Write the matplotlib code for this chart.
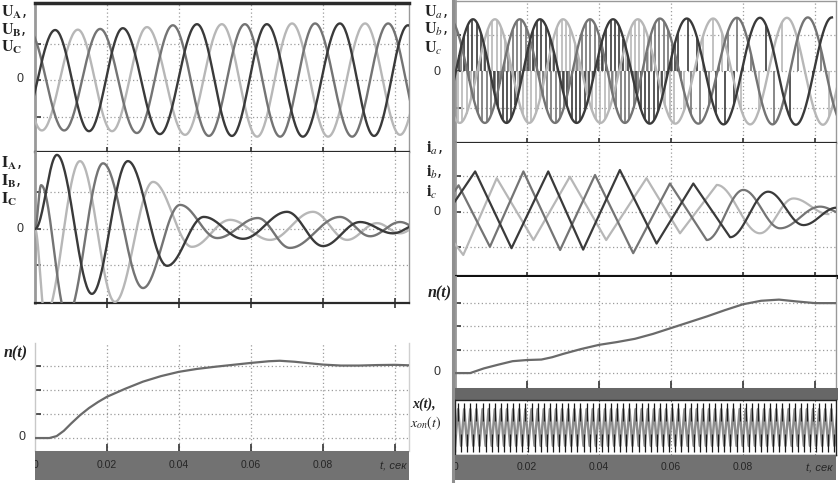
import numpy as np
import matplotlib.pyplot as plt
from matplotlib.lines import Line2D

plt.rcParams['mathtext.fontset'] = 'stix'

W, H = 838, 483

# ---------------- data ----------------
# time in seconds, amplitudes in grid units (dotted grid = +-1)

# left: supply voltages U_A, U_B, U_C  (extremes of each wave)
uA_t = [-0.0042, 0.0056, 0.0150, 0.0244, 0.0347, 0.0450, 0.0547, 0.0644, 0.0744, 0.0847, 0.0942, 0.1036, 0.1130]
uA_v = [-1.37, 1.37, -1.40, 1.42, -1.48, 1.53, -1.53, 1.53, -1.55, 1.55, -1.53, 1.50, -1.50]
uB_t = [-0.0019, 0.0081, 0.0181, 0.0283, 0.0383, 0.0483, 0.0583, 0.0681, 0.0778, 0.0881, 0.0981, 0.1078]
uB_v = [1.38, -1.38, 1.40, -1.45, 1.50, -1.53, 1.53, -1.55, 1.55, -1.55, 1.55, -1.50]
uC_t = [-0.0075, 0.0019, 0.0119, 0.0214, 0.0311, 0.0417, 0.0519, 0.0617, 0.0714, 0.0814, 0.0917, 0.1014, 0.1111]
uC_v = [1.38, -1.38, 1.38, -1.40, 1.45, -1.50, 1.53, -1.55, 1.55, -1.55, 1.55, -1.50, 1.50]

# left: stator currents I_A, I_B, I_C
iA_t = [0.0, 0.0061, 0.0158, 0.0258, 0.0367, 0.0469, 0.0578, 0.0700, 0.0800, 0.0903, 0.0994, 0.1069]
iA_v = [0.0, 2.03, -1.78, 1.86, -1.01, 0.33, -0.27, 0.47, -0.47, 0.19, -0.12, 0.15]
iB_t = [0.0, 0.0017, 0.0089, 0.0189, 0.0300, 0.0403, 0.0506, 0.0619, 0.0708, 0.0847, 0.0931, 0.1014, 0.1083]
iB_v = [0.0, 1.20, -2.40, 1.80, -1.62, 0.66, -0.25, 0.30, -0.52, 0.33, -0.20, 0.19, -0.10]
iC_t = [0.0, 0.0028, 0.0125, 0.0222, 0.0328, 0.0436, 0.0542, 0.0653, 0.0772, 0.0867, 0.0950, 0.1014, 0.1069]
iC_v = [0.0, -2.40, 1.86, -2.00, 1.29, -0.49, 0.25, -0.30, 0.47, -0.30, 0.16, -0.12, 0.10]

# left: speed n(t)
nL_t = [0.0, 0.004, 0.006, 0.008, 0.010, 0.0125, 0.015, 0.0175, 0.020, 0.025, 0.030, 0.035, 0.040,
        0.045, 0.050, 0.055, 0.060, 0.065, 0.068, 0.072, 0.076, 0.080, 0.085, 0.090, 0.095, 0.100, 0.104]
nL_v = [0.0, 0.0, 0.08, 0.30, 0.60, 0.95, 1.25, 1.50, 1.72, 2.05, 2.35, 2.58, 2.76,
        2.88, 2.97, 3.05, 3.13, 3.20, 3.22, 3.18, 3.12, 3.06, 3.02, 3.02, 3.04, 3.05, 3.03]

# right: inverter voltages U_a, U_b, U_c (sine envelopes)
ua_t = [-0.0045, 0.0050, 0.0143, 0.0236, 0.0338, 0.0439, 0.0541, 0.0644, 0.0746, 0.0847, 0.0947, 0.1047]
ua_v = [-1.42, 1.42, -1.42, 1.42, -1.42, 1.42, -1.44, 1.44, -1.46, 1.46, -1.47, 1.47]
ub_t = [-0.0015, 0.0083, 0.0180, 0.0278, 0.0375, 0.0472, 0.0569, 0.0676, 0.0783, 0.0882, 0.0980, 0.1080]
ub_v = [1.42, -1.42, 1.42, -1.42, 1.42, -1.42, 1.44, -1.44, 1.46, -1.46, 1.47, -1.47]
uc_t = [-0.0085, 0.0013, 0.0111, 0.0206, 0.0300, 0.0404, 0.0508, 0.0612, 0.0717, 0.0820, 0.0922, 0.1022, 0.1120]
uc_v = [1.42, -1.42, 1.42, -1.42, 1.42, -1.42, 1.42, -1.44, 1.44, -1.46, 1.46, -1.47, 1.47]
# switching pulses: spacing and the time up to which that spacing holds
pwm_step = [0.0012, 0.0026, 0.0065]
pwm_until = [0.062, 0.080, 0.106]

# right: currents i_a, i_b, i_c
ia_t = [0.0, 0.0056, 0.0157, 0.0259, 0.0356, 0.0458, 0.0560, 0.0662, 0.0764, 0.0870, 0.0968, 0.1060]
ia_v = [0.30, 1.14, -1.02, 1.14, -1.06, 1.18, -0.89, 0.80, -0.71, 0.57, -0.37, 0.12]
ib_t = [0.0, 0.0010, 0.0097, 0.0190, 0.0292, 0.0389, 0.0495, 0.0597, 0.0699, 0.0801, 0.0903, 0.1014, 0.1080]
ib_v = [0.60, 0.75, -0.98, 1.14, -1.07, 1.04, -1.16, 0.80, -0.79, 0.62, -0.46, 0.15, -0.05]
ic_t = [0.0, 0.0023, 0.0116, 0.0218, 0.0319, 0.0420, 0.0532, 0.0625, 0.0727, 0.0847, 0.0940, 0.1037]
ic_v = [-0.90, -1.21, 0.95, -0.79, 0.99, -0.79, 0.95, -0.60, 0.76, -0.60, 0.38, -0.06]
i_sharp_until = 0.080   # ramps look triangular before this time

# right: speed n(t)
nR_t = [0.0, 0.0042, 0.008, 0.012, 0.016, 0.020, 0.024, 0.027, 0.030, 0.035, 0.040, 0.045, 0.050,
        0.055, 0.060, 0.065, 0.070, 0.075, 0.080, 0.085, 0.090, 0.095, 0.100, 0.106]
nR_v = [0.0, 0.0, 0.20, 0.36, 0.51, 0.56, 0.58, 0.68, 0.82, 1.03, 1.21, 1.33, 1.47,
        1.68, 1.93, 2.18, 2.43, 2.70, 2.95, 3.10, 3.15, 3.07, 3.00, 3.00]

# right: x(t), x_on(t) oscillation
x_period = 0.0017
x_amp = 0.95
xon_amp = 0.72

tick_t = [0.02, 0.04, 0.06, 0.08, 0.10]
tick_lbl = ['0', '0.02', '0.04', '0.06', '0.08']

DARK, MID, LIGHT = '#3a3a3a', '#747474', '#b7b7b7'
GRID = '#9c9c9c'


def box(x0, y0, x1, y1):
    return [x0 / W, 1 - y1 / H, (x1 - x0) / W, (y1 - y0) / H]


def wave(tk, vk, sharp_until=None, n=40):
    # connect the read extremes with half-cosine arcs (or straight ramps)
    ts, vs = [], []
    for i in range(len(tk) - 1):
        s = np.linspace(0, 1, n, endpoint=False)
        if sharp_until is not None and tk[i + 1] <= sharp_until:
            f = s
        else:
            f = (1 - np.cos(np.pi * s)) / 2
        ts.append(tk[i] + s * (tk[i + 1] - tk[i]))
        vs.append(vk[i] + (vk[i + 1] - vk[i]) * f)
    ts.append([tk[-1]])
    vs.append([vk[-1]])
    return np.concatenate(ts), np.concatenate(vs)


def panel(rect, xmax, ylim, yticks, bottom=None, top=None):
    ax = fig.add_axes(box(*rect))
    ax.set_xlim(0, xmax)
    ax.set_ylim(*ylim)
    for xt in tick_t:
        ax.axvline(xt, color=GRID, lw=0.9, ls=(0, (1, 2)), zorder=1)
    for yt in yticks:
        ax.axhline(yt, color=GRID, lw=0.9, ls=(0, (1, 2)), zorder=1)
    ax.set_xticks(tick_t)
    ax.set_yticks(yticks)
    ax.tick_params(axis='y', direction='in', length=4, width=1.3, color='#444', labelleft=False)
    ax.tick_params(axis='x', direction='inout', length=7, width=1.2, color='#333',
                   labelbottom=False, bottom=bottom is not None, top=False)
    for s in ['left', 'right']:
        ax.spines[s].set_color('#999')
        ax.spines[s].set_linewidth(1.0)
    ax.spines['left'].set_linewidth(2.0)
    if bottom is None:
        ax.spines['bottom'].set_visible(False)
    else:
        ax.spines['bottom'].set_color('#2a2a2a')
        ax.spines['bottom'].set_linewidth(bottom)
    if top is None:
        ax.spines['top'].set_visible(False)
    else:
        ax.spines['top'].set_color('#2a2a2a')
        ax.spines['top'].set_linewidth(top)
    return ax


def band(rect, xmax, color, labels=True):
    ax = fig.add_axes(box(*rect))
    ax.set_xlim(0, xmax)
    ax.set_ylim(0, 1)
    ax.set_facecolor(color)
    ax.set_xticks([])
    ax.set_yticks([])
    for s in ax.spines.values():
        s.set_visible(False)
    if labels:
        for xt, lb in zip([0.0] + tick_t[:-1], tick_lbl):
            ax.text(xt, 0.5, lb, ha='center', va='center', fontsize=7.5,
                    color='#262626', family='Liberation Sans', clip_on=True)
        ax.text(0.992, 0.45, 't, сек', transform=ax.transAxes, ha='right', va='center',
                fontsize=8, style='italic', color='#262626', family='Liberation Sans')
    return ax


fig = plt.figure(figsize=(W / 100, H / 100), dpi=100)

# ================= left column =================
xL = (409 - 35) / 3600
ax = panel((35, 3, 409, 152), xL, (-1.97, 2.11), [-1, 0, 1], bottom=1.6, top=2.5)
for (tt, vv), c in zip([wave(uC_t, uC_v), wave(uB_t, uB_v), wave(uA_t, uA_v)], [LIGHT, MID, DARK]):
    ax.plot(tt, vv, color=c, lw=1.7, zorder=3)

ax = panel((35, 152, 409, 303), xL, (-2.03, 2.11), [-1, 0, 1], bottom=1.6)
for (tt, vv), c in zip([wave(iC_t, iC_v), wave(iB_t, iB_v), wave(iA_t, iA_v)], [LIGHT, MID, DARK]):
    ax.plot(tt, vv, color=c, lw=1.7, zorder=3)

ax = panel((35, 343, 409, 451), xL, (-0.54, 3.96), [0, 1, 2, 3], bottom=0.01)
ax.spines['left'].set_color('#c8c8c8')
ax.spines['left'].set_linewidth(1.0)
ax.spines['right'].set_color('#d0d0d0')
ax.tick_params(axis='x', direction='in', length=5)
ax.plot(nL_t, nL_v, color='#6a6a6a', lw=1.6, zorder=3)

band((35, 451, 409, 480), xL, '#727272')

# ================= right column =================
xR = (836 - 455) / 3600
ax = panel((455, 1, 836, 143), xR, (-1.97, 1.92), [-1, 0, 1], bottom=1.6, top=1.0)
ax.spines['top'].set_color('#999')
phases = [(uc_t, uc_v, LIGHT, 2 / 3), (ub_t, ub_v, MID, 1 / 3), (ua_t, ua_v, DARK, 0.0)]
for pt, pv, c, sh in phases:
    tt, vv = wave(pt, pv)
    start = 0.0
    for stp, end in zip(pwm_step, pwm_until):
        tp = np.arange(start + sh * stp, end, stp)
        ax.vlines(tp, 0, np.interp(tp, tt, vv), color=c, lw=1.2, zorder=2)
        start = end
    ax.plot(tt, vv, color=c, lw=1.7, zorder=3)

ax = panel((455, 143, 836, 277), xR, (-1.83, 1.94), [-1, 0, 1], bottom=3.0)
ax.spines['bottom'].set_color('#111')
for (pt, pv), c in zip([(ic_t, ic_v), (ib_t, ib_v), (ia_t, ia_v)], [LIGHT, MID, DARK]):
    tt, vv = wave(pt, pv, sharp_until=i_sharp_until)
    ax.plot(tt, vv, color=c, lw=1.6, zorder=3)

ax = panel((455, 277, 836, 388), xR, (-0.64, 4.12), [0, 1, 2, 3], bottom=0.01)
ax.tick_params(axis='x', direction='in', length=5)
ax.plot(nR_t, nR_v, color='#6a6a6a', lw=1.6, zorder=3)

band((455, 388, 838, 400), xR, '#676767', labels=False)

ax = fig.add_axes(box(455, 400, 836, 455))
ax.set_xlim(0, xR)
ax.set_ylim(-1.08, 1.08)
ax.set_xticks([])
ax.set_yticks([])
for s in ax.spines.values():
    s.set_color('#222')
    s.set_linewidth(1.0)
for xt in tick_t:
    ax.axvline(xt, color='#777', lw=0.8, ls=(0, (1, 2)), zorder=1)
xk = np.arange(0, xR + x_period, x_period / 2)
xv = np.where(np.arange(len(xk)) % 2 == 0, -xon_amp, xon_amp)
ax.plot(xk, xv, color='#8e8e8e', lw=1.8, zorder=2)
ax.vlines(xk, np.sign(xv) * 0.25, np.sign(xv) * x_amp, color='#1a1a1a', lw=0.9, zorder=3)

band((455, 455, 836, 480), xR, '#727272')

# right group frame line
fig.add_artist(Line2D([453 / W, 453 / W], [0, 1], color='#8f8f8f', lw=2.2))

# ================= labels =================
def lab(x, y, s, **kw):
    fig.text(x / W, 1 - y / H, s, **kw)

sk = dict(fontsize=11.5, color='#222', ha='left', va='center')
lab(1, 12, r'$\mathbf{U}_{\mathbf{A}}$,', **sk)
lab(1, 30, r'$\mathbf{U}_{\mathbf{B}}$,', **sk)
lab(1, 47, r'$\mathbf{U}_{\mathbf{C}}$', **sk)
lab(1, 163, r'$\mathbf{I}_{\mathbf{A}}$,', **sk)
lab(1, 181, r'$\mathbf{I}_{\mathbf{B}}$,', **sk)
lab(1, 199, r'$\mathbf{I}_{\mathbf{C}}$', **sk)
lab(424, 12, r'$\mathbf{U}_{a}$,', **sk)
lab(424, 29, r'$\mathbf{U}_{b}$,', **sk)
lab(424, 48, r'$\mathbf{U}_{c}$', **sk)
lab(426, 148, r'$\mathbf{i}_{a}$,', **sk)
lab(426, 172, r'$\mathbf{i}_{b}$,', **sk)
lab(426, 192, r'$\mathbf{i}_{c}$', **sk)

zk = dict(fontsize=9, color='#333', ha='center', va='center', family='Liberation Sans')
lab(20, 79, '0', **zk)
lab(20, 229, '0', **zk)
lab(22, 437, '0', **zk)
lab(437, 72, '0', **zk)
lab(437, 212, '0', **zk)
lab(437, 372, '0', **zk)

nk = dict(fontsize=11.5, color='#222', va='center', style='italic', weight='bold',
          family='Liberation Serif')
lab(28, 353, 'n(t)', ha='right', **nk)
lab(452, 293, 'n(t)', ha='right', **nk)
lab(412, 404, 'x(t),', ha='left', fontsize=10, color='#222', va='center', style='italic',
    weight='bold', family='Liberation Serif')
lab(410, 423, r'$x_{on}(t)$', ha='left', fontsize=10, color='#222', va='center')

fig.savefig('out.png', dpi=100)
